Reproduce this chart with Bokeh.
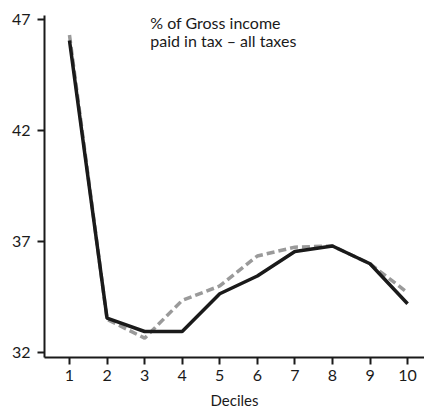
from bokeh.plotting import figure
from bokeh.models import Range1d, Label, FixedTicker
from bokeh.embed import file_html
from bokeh.resources import INLINE

deciles = [1, 2, 3, 4, 5, 6, 7, 8, 9, 10]
solid_vals = [46.05, 33.55, 32.95, 32.95, 34.65, 35.45, 36.55, 36.8, 36.0, 34.2]
dashed_vals = [46.3, 33.5, 32.65, 34.35, 35.0, 36.35, 36.75, 36.8, 36.0, 34.7]
y_ticks = [32, 37, 42, 47]
title_text = "% of Gross income\npaid in tax \u2013 all taxes"
x_label = "Deciles"

FONT = "Lato"

p = figure(width=424, height=411, output_backend="svg", toolbar_location=None,
           x_range=Range1d(0.335, 10.45), y_range=Range1d(31.78, 47.18),
           min_border_left=44, min_border_right=0, min_border_top=15, min_border_bottom=54)
p.outline_line_color = None
p.xgrid.visible = False
p.ygrid.visible = False

p.line(deciles, dashed_vals, line_color="#9a9a9a", line_width=3.5, line_dash="8 4")
p.line(deciles, solid_vals, line_color="#1a1a1a", line_width=3.5)

for ax in (p.xaxis[0], p.yaxis[0]):
    ax.axis_line_width = 2
    ax.axis_line_color = "#1a1a1a"
    ax.major_tick_line_width = 2
    ax.major_tick_line_color = "#1a1a1a"
    ax.major_tick_in = 0
    ax.major_tick_out = 7
    ax.minor_tick_line_color = None
    ax.major_label_text_font = FONT
    ax.major_label_text_font_size = "16px"
    ax.major_label_text_color = "#1a1a1a"

p.xaxis.ticker = FixedTicker(ticks=deciles)
p.yaxis.ticker = FixedTicker(ticks=y_ticks)
p.xaxis.major_label_standoff = 5
p.yaxis.major_label_standoff = 7
p.xaxis.axis_label = x_label
p.xaxis.axis_label_text_font = FONT
p.xaxis.axis_label_text_font_style = "normal"
p.xaxis.axis_label_text_font_size = "15px"
p.xaxis.axis_label_text_color = "#1a1a1a"
p.xaxis.axis_label_standoff = 7

lab = Label(x=3.15, y=47.3, text=title_text,
            text_font=FONT, text_font_size="16px", text_color="#1a1a1a",
            text_baseline="top", text_align="left", text_line_height=0.95)
p.add_layout(lab)

open("out.html", "w").write(file_html(p, INLINE))
